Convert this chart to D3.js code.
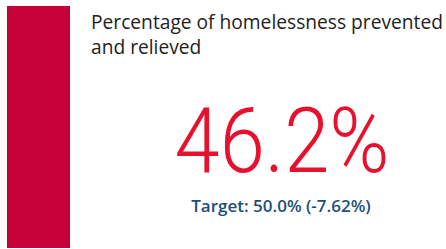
<!DOCTYPE html>
<html>
<head>
<meta charset="utf-8">
<script src="https://cdn.jsdelivr.net/npm/d3@7"></script>
<style>
  body { margin: 0; background: #fff; }
</style>
</head>
<body>
<div id="card"></div>
<script>
/////////////////////////////////////
///      DATA
/////////////////////////////////////
var titleLines = ["Percentage of homelessness prevented", "and relieved"];
var actualValue = [46.2];
var targetValue = [50.0];
var varianceValue = [-7.62];

/////////////////////////////////////
///      CARD
/////////////////////////////////////
function makeCard(containerID){
  var width = 446, height = 249;
  var svg = d3.select(containerID).append("svg:svg")
    .attr("width", width)
    .attr("height", height);

  // status band on the left
  svg.append("rect")
    .attr("x", 7)
    .attr("y", 6)
    .attr("width", 63)
    .attr("height", 242)
    .attr("fill", "#C8003A");

  var title = svg.append("text")
    .attr("x", 91)
    .attr("y", 28.5)
    .attr("font-family", "'Open Sans', 'Noto Sans', sans-serif")
    .attr("font-size", 19.2)
    .attr("fill", "#222");
  title.selectAll("tspan")
    .data(titleLines)
    .enter().append("tspan")
    .attr("x", 91)
    .attr("dy", function(d, i){ return i ? 25 : 0; })
    .text(function(d){ return d; });

  var fmt = d3.format(".1f");
  svg.append("text")
    .attr("x", 282)
    .attr("y", 172)
    .attr("text-anchor", "middle")
    .attr("font-family", "Roboto, sans-serif")
    .attr("font-weight", 300)
    .attr("font-size", 91)
    .attr("textLength", 215)
    .attr("lengthAdjust", "spacingAndGlyphs")
    .attr("fill", "#E8112D")
    .text(fmt(actualValue[0]) + "%");

  // plain hyphen for the variance, as in the original card
  var variance = varianceValue[0].toFixed(2);
  svg.append("text")
    .attr("x", 281)
    .attr("y", 212)
    .attr("text-anchor", "middle")
    .attr("font-family", "'Open Sans', 'Noto Sans', sans-serif")
    .attr("font-weight", 600)
    .attr("font-size", 17)
    .attr("fill", "#1F4E79")
    .text("Target: " + fmt(targetValue[0]) + "% (" + variance + "%)");

  return svg;
}

makeCard("#card");
</script>
</body>
</html>
